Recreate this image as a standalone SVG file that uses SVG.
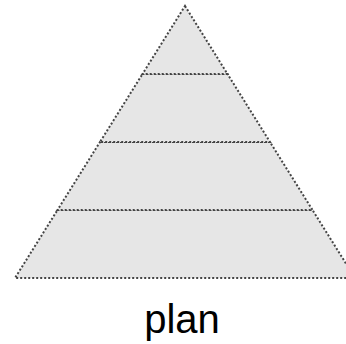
<svg xmlns="http://www.w3.org/2000/svg" width="346" height="344" viewBox="0 0 346 344">
<style>
.layer{fill:#e6e6e6;stroke:#444;stroke-width:2;stroke-dasharray:2 2}
.lbl{font-family:"Liberation Sans",Arial,sans-serif;font-size:40px;fill:#000;text-anchor:middle}
</style>
<rect width="346" height="344" fill="#fff"/>
<g id="layer4"><polygon class="layer" points="57.5,210 312.5,210 355,278 15,278"/></g>
<g id="layer3"><polygon class="layer" points="100,142 270,142 312.5,210 57.5,210"/></g>
<g id="layer2"><polygon class="layer" points="142.5,74 227.5,74 270,142 100,142"/></g>
<g id="layer1"><polygon class="layer" points="185,6 227.5,74 142.5,74"/></g>
<g id="label"><text class="lbl" x="182" y="333">plan</text></g>
</svg>
